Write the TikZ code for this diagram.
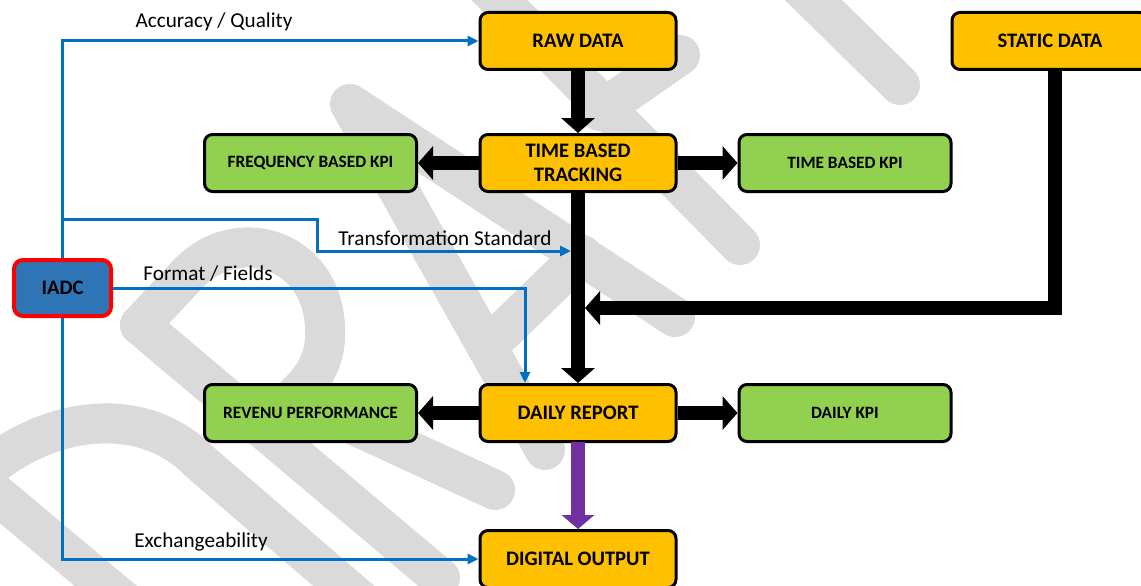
\documentclass[tikz,border=0pt]{standalone}
\usepackage{fontspec}
\setmainfont{Carlito}
\usetikzlibrary{arrows.meta,calc}
\definecolor{boxorange}{HTML}{FFC000}
\definecolor{boxgreen}{HTML}{92D050}
\definecolor{iadcblue}{HTML}{2E75B6}
\definecolor{linkblue}{HTML}{0070C0}
\definecolor{outpurple}{HTML}{7030A0}
\definecolor{wmgray}{HTML}{DADADA}
\begin{document}
\begin{tikzpicture}[x=1pt,y=-1pt,
  orangebox/.style={draw=black, line width=3pt, fill=boxorange, rounded corners=8pt,
    minimum width=196pt, minimum height=57pt, inner sep=2pt, align=center,
    font=\fontsize{20.6}{24}\selectfont\bfseries},
  greenbox/.style={orangebox, fill=boxgreen, minimum width=212pt,
    font=\fontsize{17.3}{20}\selectfont\bfseries},
  iadcbox/.style={draw=red, line width=4pt, fill=iadcblue, rounded corners=9pt,
    minimum width=97pt, minimum height=56pt, inner sep=2pt,
    font=\fontsize{20.6}{24}\selectfont\bfseries},
  bigarrow/.style={line width=14pt, -{Triangle[length=15pt,width=33pt]}, line join=miter},
  purplearrow/.style={line width=14pt, outpurple, -{Triangle[length=14pt,width=32pt]}},
  bluelink/.style={linkblue, line width=3pt, -{Triangle[length=11pt,width=10pt]}},
  linklabel/.style={font=\fontsize{21.2}{24}\selectfont, inner sep=0pt},
  wmstroke/.style={wmgray, line width=40pt, line cap=round, line join=round}]
\useasboundingbox (0,0) rectangle (1141,586);
\clip (0,0) rectangle (1141,586);
\fill[white] (0,0) rectangle (1141,586);
% watermark DRAFT
% D
\draw[wmstroke] (-23,478) -- (280,732);
\draw[wmstroke] (-23,478) .. controls (40,418) and (140,400) .. (200,462) -- (360,600);
% R
\draw[wmstroke] (140,325) -- (440,578);
\draw[wmstroke] (140,325) -- (190,272) .. controls (240,222) and (330,250) .. (325,340)
  .. controls (322,375) and (300,395) .. (259,425);
\draw[wmstroke] (300,400) -- (495,490);
% A
\draw[wmstroke] (545,450) -- (350,104) -- (675,317);
\draw[wmstroke] (487,347) -- (582,255);
% F
\draw[wmstroke] (740,245) -- (470,-30) -- (560,-110);
\draw[wmstroke] (600,111) -- (680,55);
% T
\draw[wmstroke] (900,85) -- (630,-180);
% nodes
\node[orangebox] (raw) at (578,41) {RAW DATA};
\node[orangebox] (static) at (1050,41) {STATIC DATA};
\node[orangebox] (tbt) at (578,163) {TIME BASED\\TRACKING};
\node[greenbox] (freq) at (310.5,163) {FREQUENCY BASED KPI};
\node[greenbox] (tkpi) at (845,163) {TIME BASED KPI};
\node[iadcbox] (iadc) at (62.5,288) {IADC};
\node[orangebox] (daily) at (578,413) {DAILY REPORT};
\node[greenbox] (rev) at (310.5,413) {REVENU PERFORMANCE};
\node[greenbox] (dkpi) at (845,413) {DAILY KPI};
\node[orangebox] (digital) at (578,559) {DIGITAL OUTPUT};
% thick arrows
\draw[bigarrow] (raw.south) -- (tbt.north);
\draw[bigarrow] (tbt.west) -- (freq.east);
\draw[bigarrow] (tbt.east) -- (tkpi.west);
\draw[bigarrow] (tbt.south) -- (daily.north);
\draw[bigarrow] (daily.west) -- (rev.east);
\draw[bigarrow] (daily.east) -- (dkpi.west);
\coordinate (merge) at (585,308);
\draw[bigarrow] ([xshift=5pt]static.south) |- (merge);
\draw[purplearrow] ([yshift=1.5pt]daily.south) -- (digital.north);
% blue links
\coordinate (branch) at (62.5,219);
\coordinate (tsend) at (571,251);
\draw[bluelink] (iadc.north) |- (raw.west);
\draw[bluelink] (branch) -- (317,219) |- (tsend);
\draw[bluelink] (iadc.east) -| ([xshift=-53pt]daily.north);
\draw[bluelink] (iadc.south) |- (digital.west);
% labels
\node[linklabel, anchor=base] (acc) at (214,28) {Accuracy / Quality};
\node[linklabel, anchor=base] (ts) at (445,245) {Transformation Standard};
\node[linklabel, anchor=base] (ff) at (208,280) {Format / Fields};
\node[linklabel, anchor=base] (ex) at (201,547) {Exchangeability};
\end{tikzpicture}
\end{document}
